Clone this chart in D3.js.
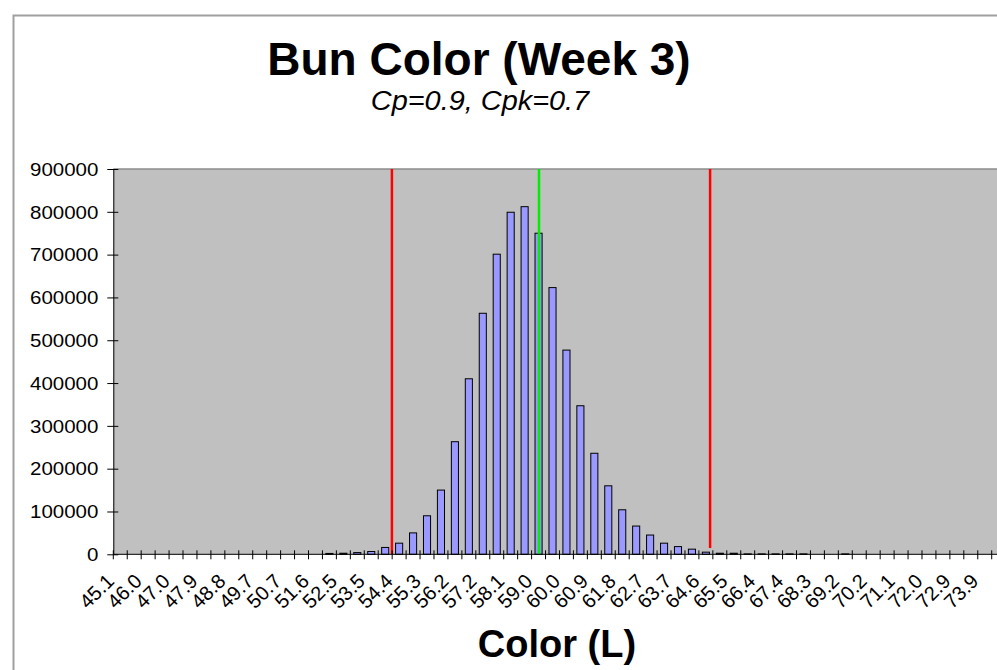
<!DOCTYPE html>
<html>
<head>
<meta charset="utf-8">
<script src="https://cdn.jsdelivr.net/npm/d3@7"></script>
<style>
  html, body { margin: 0; padding: 0; background: #fff; }
  svg { display: block; }
  text { font-family: "Liberation Sans", Arial, sans-serif; }
</style>
</head>
<body>
<svg id="chart" width="997" height="670"></svg>
<script>
// ---- data ----
const titleText = "Bun Color (Week 3)";
const subtitleText = "Cp=0.9, Cpk=0.7";
const xAxisTitle = "Color (L)";

const categories = [
  "45.1","45.6","46.0","46.5","47.0","47.4","47.9","48.4","48.8","49.3",
  "49.7","50.2","50.7","51.1","51.6","52.1","52.5","53.0","53.5","53.9",
  "54.4","54.9","55.3","55.8","56.2","56.7","57.2","57.6","58.1","58.6",
  "59.0","59.5","60.0","60.4","60.9","61.4","61.8","62.3","62.7","63.2",
  "63.7","64.1","64.6","65.1","65.5","66.0","66.4","66.9","67.4","67.8",
  "68.3","68.8","69.2","69.7","70.2","70.6","71.1","71.5","72.0","72.4",
  "72.9","73.4","73.9","74.3"
];

const counts = [
  0,0,0,0,0,0,0,0,0,0,
  0,0,0,0,0,2000,2500,4000,6500,16000,
  26000,50000,90000,150000,263000,410000,563000,701000,799000,812000,
  750000,623000,477000,347000,236000,160000,104000,66000,45000,26000,
  18000,12000,5000,2500,2500,1000,1000,1000,1000,1000,
  0,0,1000,0,0,0,0,0,0,0,
  0,0,0,0
];

const yTickValues = [0,100000,200000,300000,400000,500000,600000,700000,800000,900000];

// spec lines (in colour units)
const specNames  = ["LSL", "Target", "USL"];
const specValues = [54.15, 59.05, 64.75];
const specColors = ["#ff0000", "#00ee00", "#ff0000"];
const specBottom = [0, 0, 15000];

// ---- layout ----
const svg = d3.select("#chart");
const W = 997, H = 670;
const plot = { left: 113.3, top: 169, bottom: 554.3, step: 13.943 };
plot.right = plot.left + plot.step * categories.length;

// outer chart border
svg.append("path")
  .attr("d", `M13.5,${H} V15.5 H${W}`)
  .attr("fill", "none").attr("stroke", "#a0a0a0").attr("stroke-width", 2);

const x = d3.scaleBand()
  .domain(categories)
  .range([plot.left, plot.right])
  .paddingInner(0.42).paddingOuter(0.21);

const y = d3.scaleLinear().domain([0, 900000]).range([plot.bottom, plot.top]);

// value -> pixel for spec lines, anchored on category centres
const firstV = +categories[0], lastV = +categories[categories.length - 2];
const xv = d3.scaleLinear()
  .domain([firstV, lastV])
  .range([x(categories[0]) + x.bandwidth() / 2, x(categories[categories.length - 2]) + x.bandwidth() / 2]);

// plot background
svg.append("rect")
  .attr("x", plot.left).attr("y", plot.top)
  .attr("width", plot.right - plot.left).attr("height", plot.bottom - plot.top)
  .attr("fill", "#c0c0c0");
svg.append("line")
  .attr("x1", plot.left).attr("x2", plot.right)
  .attr("y1", plot.top).attr("y2", plot.top)
  .attr("stroke", "#8c8c8c").attr("stroke-width", 1.5);

// bars
svg.append("g").selectAll("rect")
  .data(categories.map((c, i) => ({ c, v: counts[i] })).filter(d => d.v > 0))
  .join("rect")
  .attr("x", d => x(d.c) + 0.5)
  .attr("y", d => y(d.v))
  .attr("width", x.bandwidth() - 1)
  .attr("height", d => y(0) - y(d.v))
  .attr("fill", "#9999ff")
  .attr("stroke", "#000")
  .attr("stroke-width", 1);

// spec lines
svg.append("g").selectAll("line")
  .data(specValues.map((v, i) => ({ v, color: specColors[i], b: specBottom[i] })))
  .join("line")
  .attr("x1", d => xv(d.v)).attr("x2", d => xv(d.v))
  .attr("y1", d => y(d.b)).attr("y2", y(900000))
  .attr("stroke", d => d.color).attr("stroke-width", 2.5);

// y axis
const yAxis = d3.axisLeft(y).tickValues(yTickValues).tickFormat(d3.format("d")).tickSizeOuter(0).tickSizeInner(6).tickPadding(9);
const gy = svg.append("g").attr("transform", `translate(${plot.left},0)`).call(yAxis);
gy.select(".domain").attr("stroke", "#000");
gy.selectAll(".tick line").attr("x2", 5).attr("x1", -6).attr("stroke", "#000");
gy.selectAll(".tick text")
  .attr("font-size", 17.5).attr("fill", "#000")
  .attr("font-family", "'Liberation Sans', Arial, sans-serif")
  .attr("x", null).attr("dy", "0.36em")
  .attr("transform", "translate(-15,0) scale(1.17,1)");

// x axis line + crossing ticks at category boundaries
const gx = svg.append("g");
gx.append("line").attr("x1", plot.left).attr("x2", plot.right)
  .attr("y1", plot.bottom).attr("y2", plot.bottom).attr("stroke", "#000");
gx.selectAll("line.tk")
  .data(d3.range(categories.length + 1))
  .join("line").attr("class", "tk")
  .attr("x1", i => i < categories.length ? x(categories[i]) - x.step() * x.paddingOuter() : plot.right)
  .attr("x2", i => i < categories.length ? x(categories[i]) - x.step() * x.paddingOuter() : plot.right)
  .attr("y1", plot.bottom - 4).attr("y2", plot.bottom + 5)
  .attr("stroke", "#000");

// x labels every second category
gx.selectAll("text.xl")
  .data(categories.filter((c, i) => i % 2 === 0))
  .join("text").attr("class", "xl")
  .attr("transform", c => `translate(${x(c) + x.bandwidth() / 2 - 5},${plot.bottom + 28}) rotate(-45)`)
  .attr("text-anchor", "end")
  .attr("font-size", 20)
  .attr("fill", "#000")
  .text(c => c);

// titles
svg.append("text").attr("x", 479).attr("y", 75).attr("text-anchor", "middle")
  .attr("font-size", 46).attr("font-weight", "bold").text(titleText);
svg.append("text").attr("transform", "translate(480,110) scale(1.07,1)").attr("text-anchor", "middle")
  .attr("font-size", 27).attr("font-style", "italic").text(subtitleText);
svg.append("text").attr("x", 557).attr("y", 657).attr("text-anchor", "middle")
  .attr("font-size", 38).attr("font-weight", "bold").text(xAxisTitle);
</script>
</body>
</html>
